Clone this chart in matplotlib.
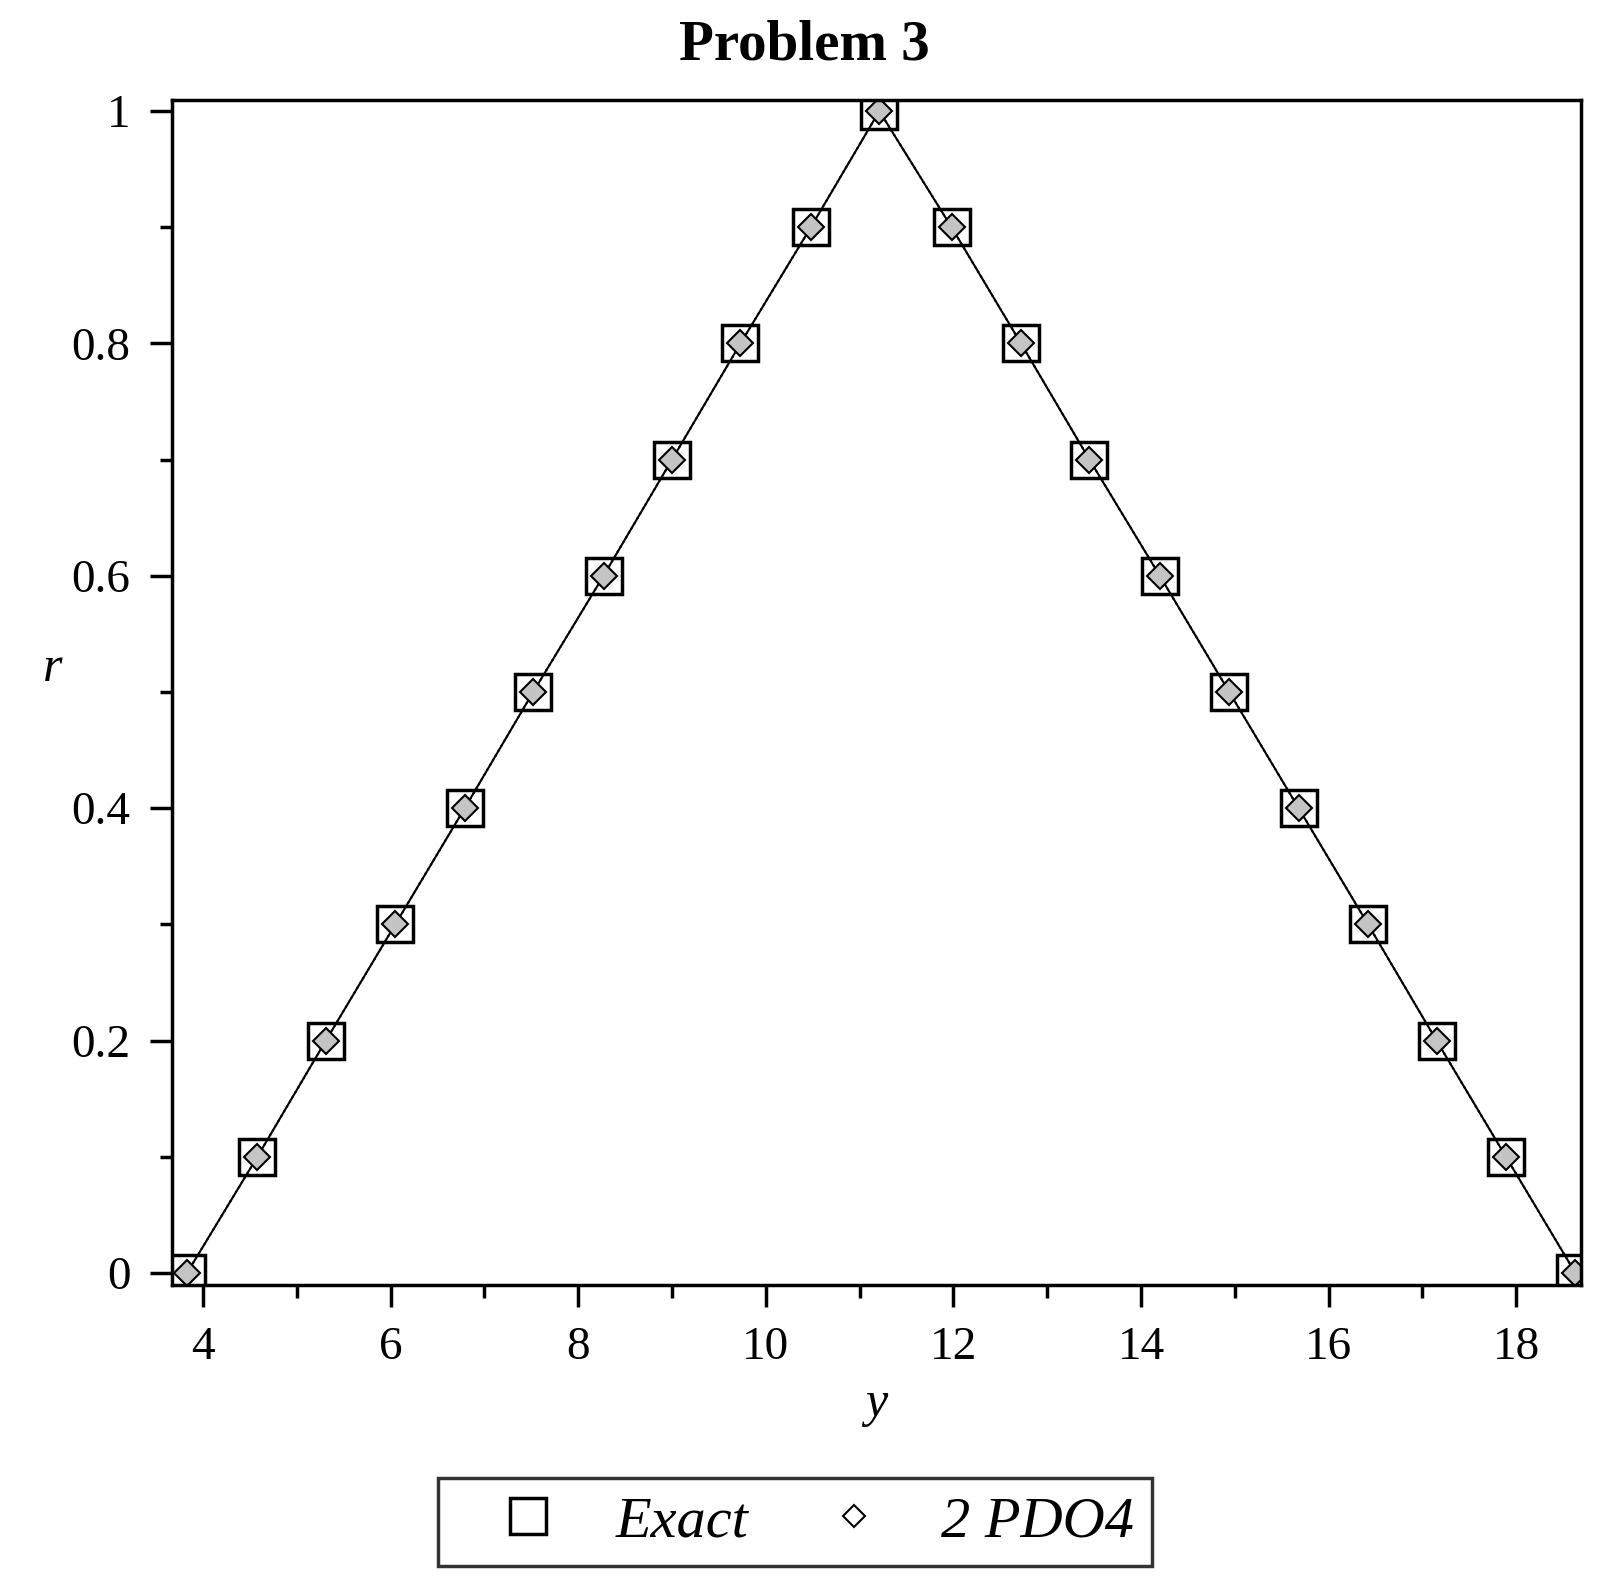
import matplotlib
matplotlib.use("Agg")
import matplotlib.pyplot as plt
from matplotlib.ticker import MultipleLocator

# data
y_vals = [3.83, 4.58, 5.31, 6.05, 6.79, 7.52, 8.27, 9.00, 9.73, 10.48, 11.21,
          11.98, 12.72, 13.45, 14.20, 14.94, 15.68, 16.42, 17.15, 17.89, 18.63]
r_exact = [0.0, 0.1, 0.2, 0.3, 0.4, 0.5, 0.6, 0.7, 0.8, 0.9, 1.0,
           0.9, 0.8, 0.7, 0.6, 0.5, 0.4, 0.3, 0.2, 0.1, 0.0]
r_pdo4 = [0.0, 0.1, 0.2, 0.3, 0.4, 0.5, 0.6, 0.7, 0.8, 0.9, 1.0,
          0.9, 0.8, 0.7, 0.6, 0.5, 0.4, 0.3, 0.2, 0.1, 0.0]

plt.rcParams['font.family'] = ['Liberation Serif', 'DejaVu Serif']

fig = plt.figure(figsize=(16.09, 15.85), dpi=100)
ax = fig.add_axes([0.1069, 0.1893, 0.8757, 0.7476])

ax.plot(y_vals, r_exact, '-', color='black', linewidth=1.5,
        marker='s', markersize=26, markerfacecolor='none',
        markeredgecolor='black', markeredgewidth=2.5, label='Exact')
ax.plot(y_vals, r_pdo4, ':', color='black', linewidth=1.5,
        marker='D', markersize=13, markerfacecolor='#c4c4c4',
        markeredgecolor='black', markeredgewidth=1.5, label='2 PDO4')

ax.set_xlim(3.67, 18.69)
ax.set_ylim(-0.0103, 1.0095)
ax.xaxis.set_major_locator(MultipleLocator(2))
ax.xaxis.set_minor_locator(MultipleLocator(1))
ax.yaxis.set_minor_locator(MultipleLocator(0.1))
ax.set_yticks([0, 0.2, 0.4, 0.6, 0.8, 1.0])
ax.set_yticklabels(['0', '0.2', '0.4', '0.6', '0.8', '1'])

ax.tick_params(which='major', direction='out', length=16, width=2.5,
               labelsize=34, pad=14)
ax.tick_params(which='minor', direction='out', length=9, width=2.5)
for s in ax.spines.values():
    s.set_linewidth(2.5)

ax.set_xlabel('y', fontsize=36, style='italic', labelpad=8)
ax.set_ylabel('r', fontsize=36, style='italic', rotation=0)
ax.yaxis.set_label_coords(-0.085, 0.5)
fig.suptitle('Problem 3', fontsize=41, fontweight='bold', y=0.988)

leg = fig.legend(loc='center', bbox_to_anchor=(0.494, 0.04), ncol=2,
                 fontsize=42, frameon=True, fancybox=False, edgecolor='black',
                 handlelength=2.5, handletextpad=0.25, columnspacing=0.55,
                 borderpad=0.3, borderaxespad=0)
leg.get_frame().set_linewidth(2.5)
for t in leg.get_texts():
    t.set_style('italic')
for h in leg.legend_handles:
    h.set_linestyle('none')
leg.legend_handles[1].set_markerfacecolor('white')
leg.legend_handles[1].set_markersize(11)

fig.savefig('out.png', dpi=100)
